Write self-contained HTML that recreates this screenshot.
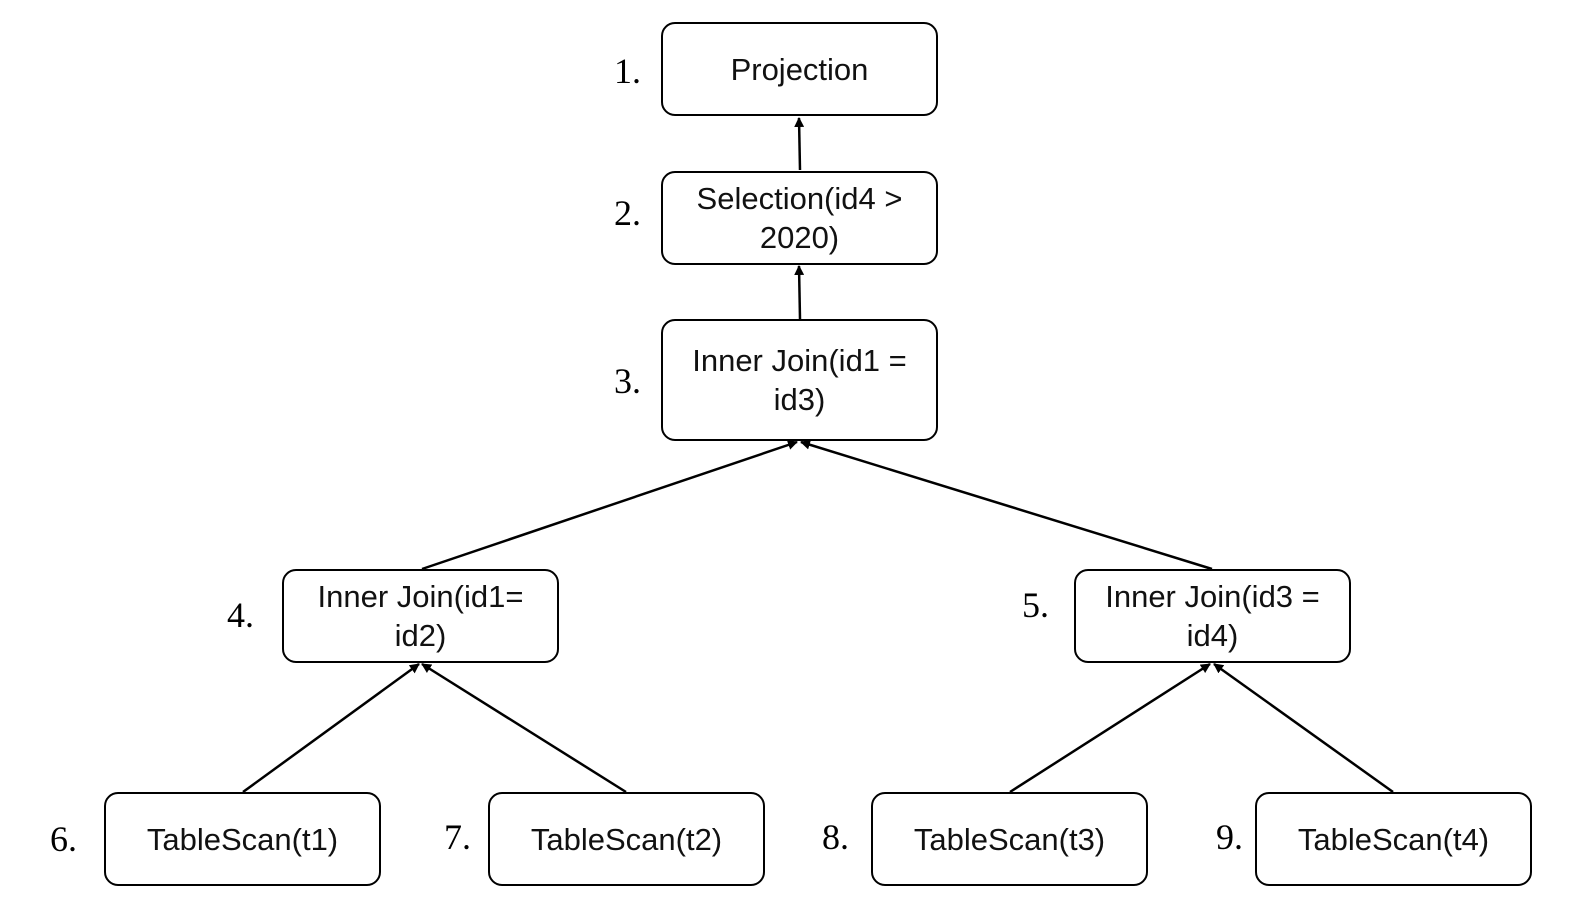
<!DOCTYPE html>
<html><head><meta charset="utf-8"><style>
html,body{margin:0;padding:0;background:#fff;width:1574px;height:924px;overflow:hidden}
.b{position:absolute;box-sizing:border-box;border:2.5px solid #000;border-radius:14px;display:flex;align-items:center;justify-content:center;text-align:center;font-family:"Liberation Sans",sans-serif;font-size:31px;line-height:39px;color:#111}
.n{position:absolute;font-family:"Liberation Serif",serif;font-size:36px;color:#000}
svg{position:absolute;left:0;top:0}
</style></head><body>
<svg width="1574" height="924">
<defs><marker id="a" markerWidth="10" markerHeight="10" refX="9" refY="5" orient="auto" markerUnits="userSpaceOnUse"><path d="M0,0 L10,5 L0,10 z" fill="#000"/></marker></defs>
<g stroke="#000" stroke-width="2.5" fill="none" marker-end="url(#a)">
<line x1="800" y1="170" x2="799" y2="118"/>
<line x1="800" y1="319" x2="799" y2="266"/>
<line x1="422" y1="569" x2="797" y2="442"/>
<line x1="1212" y1="569" x2="801" y2="442"/>
<line x1="243" y1="792" x2="419" y2="664"/>
<line x1="626" y1="792" x2="422" y2="664"/>
<line x1="1010" y1="792" x2="1210" y2="664"/>
<line x1="1393" y1="792" x2="1214" y2="664"/>
</g></svg>
<div class="b" style="left:661px;top:22px;width:277px;height:94px">Projection</div>
<div class="b" style="left:661px;top:171px;width:277px;height:94px">Selection(id4 &gt;<br>2020)</div>
<div class="b" style="left:661px;top:319px;width:277px;height:122px">Inner Join(id1 =<br>id3)</div>
<div class="b" style="left:282px;top:569px;width:277px;height:94px">Inner Join(id1=<br>id2)</div>
<div class="b" style="left:1074px;top:569px;width:277px;height:94px">Inner Join(id3 =<br>id4)</div>
<div class="b" style="left:104px;top:792px;width:277px;height:94px">TableScan(t1)</div>
<div class="b" style="left:488px;top:792px;width:277px;height:94px">TableScan(t2)</div>
<div class="b" style="left:871px;top:792px;width:277px;height:94px">TableScan(t3)</div>
<div class="b" style="left:1255px;top:792px;width:277px;height:94px">TableScan(t4)</div>
<div class="n" style="left:614px;top:50px">1.</div>
<div class="n" style="left:614px;top:192px">2.</div>
<div class="n" style="left:614px;top:360px">3.</div>
<div class="n" style="left:227px;top:594px">4.</div>
<div class="n" style="left:1022px;top:584px">5.</div>
<div class="n" style="left:50px;top:818px">6.</div>
<div class="n" style="left:444px;top:816px">7.</div>
<div class="n" style="left:822px;top:816px">8.</div>
<div class="n" style="left:1216px;top:816px">9.</div>
</body></html>
